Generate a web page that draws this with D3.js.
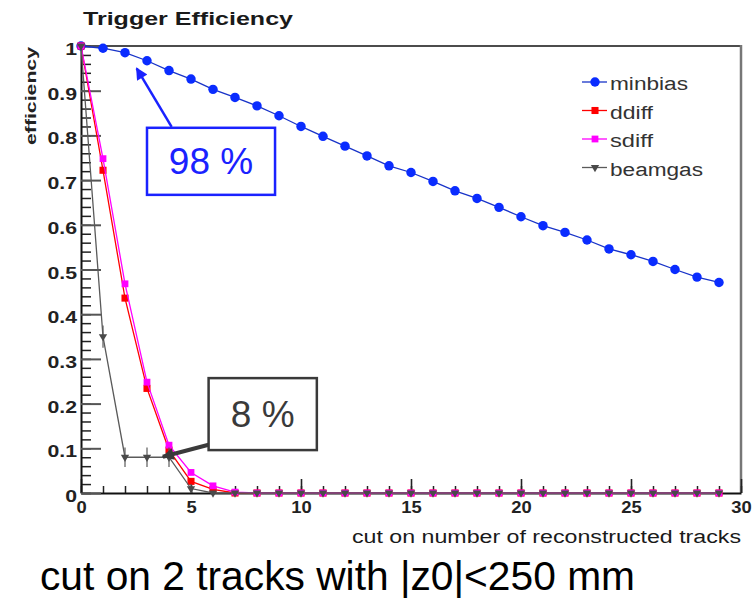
<!DOCTYPE html>
<html>
<head>
<meta charset="utf-8">
<script src="https://cdn.jsdelivr.net/npm/d3@7"></script>
<style>
body { margin: 0; background: #fff; }
svg { display: block; font-family: "Liberation Sans", Arial, sans-serif; }
</style>
</head>
<body>
<svg width="754" height="599"></svg>
<script>
// cut value (number of reconstructed tracks) -> trigger efficiency
let cuts = [0, 1, 2, 3, 4, 5, 6, 7, 8, 9, 10, 11, 12, 13, 14,
            15, 16, 17, 18, 19, 20, 21, 22, 23, 24, 25, 26, 27, 28, 29];

let minbias = [1.0, 0.995, 0.985, 0.967, 0.945, 0.926, 0.903, 0.885, 0.866, 0.844,
               0.82, 0.798, 0.776, 0.754, 0.732, 0.717, 0.697, 0.676, 0.659, 0.639,
               0.618, 0.598, 0.583, 0.566, 0.546, 0.533, 0.518, 0.5, 0.483, 0.471];
let ddiff = [1.0, 0.722, 0.436, 0.234, 0.096, 0.026, 0.008, 0, 0, 0,
             0, 0, 0, 0, 0, 0, 0, 0, 0, 0, 0, 0, 0, 0, 0, 0, 0, 0, 0, 0];
let sdiff = [1.0, 0.748, 0.468, 0.248, 0.107, 0.046, 0.016, 0.002, 0, 0,
             0, 0, 0, 0, 0, 0, 0, 0, 0, 0, 0, 0, 0, 0, 0, 0, 0, 0, 0, 0];
let beamgas = [1.0, 0.35, 0.08, 0.08, 0.08, 0.01, 0, 0, 0, 0,
               0, 0, 0, 0, 0, 0, 0, 0, 0, 0, 0, 0, 0, 0, 0, 0, 0, 0, 0, 0];
let beamgasErr = [0, 0.025, 0.022, 0.022, 0.022, 0.01, 0, 0, 0, 0,
                  0, 0, 0, 0, 0, 0, 0, 0, 0, 0, 0, 0, 0, 0, 0, 0, 0, 0, 0, 0];

let seriesNames = ["minbias", "ddiff", "sdiff", "beamgas"];
let xTicks = [0, 5, 10, 15, 20, 25, 30];
let yTicks = [0, 0.1, 0.2, 0.3, 0.4, 0.5, 0.6, 0.7, 0.8, 0.9, 1];

// callouts, in data units
let callouts = [
  {text: "98 %", box: [3.0, 0.817, 8.82, 0.667], from: [4.12, 0.819], to: [2.53, 0.95], color: "#1a22ff", width: 2.5},
  {text: "8 %", box: [5.8, 0.257, 10.72, 0.096], from: [5.8, 0.108], to: [3.72, 0.081], color: "#3a3a3a", width: 4}
];

let svg = d3.select("svg");

let x = d3.scaleLinear().domain([0, 30]).range([81, 741]),
    y = d3.scaleLinear().domain([0, 1]).range([493, 46]);

let styles = {
  minbias: {color: "#0a2cff", line: "#1833c8", symbol: d3.symbolCircle, size: 70, rotate: 0},
  ddiff:   {color: "#ff0000", line: "#ff0000", symbol: d3.symbolSquare, size: 50, rotate: 0},
  sdiff:   {color: "#ff00ff", line: "#ff00ff", symbol: d3.symbolSquare, size: 46, rotate: 0},
  beamgas: {color: "#4a4a4a", line: "#5a5a5a", symbol: d3.symbolTriangle, size: 30, rotate: 180}
};
let values = {minbias: minbias, ddiff: ddiff, sdiff: sdiff, beamgas: beamgas};

// frame (top and right)
svg.append("line")
    .attr("x1", x(0)).attr("x2", x(30)).attr("y1", y(1)).attr("y2", y(1))
    .attr("stroke", "#111").attr("stroke-width", 1.5);
svg.append("line")
    .attr("x1", x(30)).attr("x2", x(30)).attr("y1", y(1) - 1).attr("y2", y(0))
    .attr("stroke", "#777").attr("stroke-width", 2.5);

// minor ticks
svg.append("g")
    .attr("transform", "translate(0," + y(0) + ")")
    .call(d3.axisBottom(x).tickValues(d3.range(0, 31)).tickSize(-7).tickFormat(""))
    .call(function(g) { g.select(".domain").remove(); })
    .selectAll("line").attr("stroke", "#222").attr("stroke-width", 1.5);

svg.append("g")
    .attr("transform", "translate(" + x(0) + ",0)")
    .call(d3.axisLeft(y).tickValues(d3.range(0, 1.001, 0.02)).tickSize(-10).tickFormat(""))
    .call(function(g) { g.select(".domain").remove(); })
    .selectAll("line").attr("stroke", "#222").attr("stroke-width", 1.5);

// major axes
let gx = svg.append("g")
    .attr("transform", "translate(0," + y(0) + ")")
    .call(d3.axisBottom(x).tickValues(xTicks).tickSizeInner(-14).tickSizeOuter(0));

gx.select(".domain").attr("stroke", "#111").attr("stroke-width", 2);
gx.selectAll(".tick line").attr("stroke", "#222").attr("stroke-width", 1.6);
gx.selectAll(".tick text")
    .attr("y", 20).attr("dy", null)
    .attr("transform", "scale(1.15,1)")
    .attr("fill", "#222")
    .style("font-size", "16px").style("font-weight", "bold")
    .style("font-family", "'Liberation Sans', Arial, sans-serif");

let gy = svg.append("g")
    .attr("transform", "translate(" + x(0) + ",0)")
    .call(d3.axisLeft(y).tickValues(yTicks).tickSizeInner(-20).tickSizeOuter(0).tickFormat(d3.format("~g")));

gy.select(".domain").attr("stroke", "#111").attr("stroke-width", 2);
gy.selectAll(".tick line").attr("stroke", "#555").attr("stroke-width", 2);
gy.selectAll(".tick text")
    .attr("x", -3.2).attr("dy", "0.5em")
    .attr("transform", "scale(1.25,1)")
    .attr("fill", "#222")
    .style("font-size", "17px").style("font-weight", "bold")
    .style("font-family", "'Liberation Sans', Arial, sans-serif");

// titles
svg.append("text")
    .attr("x", 83).attr("y", 25)
    .attr("textLength", 210).attr("lengthAdjust", "spacingAndGlyphs")
    .style("font-size", "19px").style("font-weight", "bold").attr("fill", "#1a1a1a")
    .text("Trigger Efficiency");

svg.append("text")
    .attr("transform", "translate(36,47) rotate(-90)")
    .attr("text-anchor", "end")
    .attr("textLength", 98).attr("lengthAdjust", "spacingAndGlyphs")
    .style("font-size", "15px").style("font-weight", "bold").attr("fill", "#222")
    .text("efficiency");

svg.append("text")
    .attr("x", 352).attr("y", 543)
    .attr("textLength", 389).attr("lengthAdjust", "spacingAndGlyphs")
    .style("font-size", "18px").attr("fill", "#1a1a1a")
    .text("cut on number of reconstructed tracks");

svg.append("text")
    .attr("x", 40).attr("y", 590)
    .attr("textLength", 595).attr("lengthAdjust", "spacingAndGlyphs")
    .style("font-size", "41px").attr("fill", "#000")
    .text("cut on 2 tracks with |z0|<250 mm");

// series
let line = d3.line()
    .x(function(d, i) { return x(cuts[i]); })
    .y(function(d) { return y(d); });

seriesNames.forEach(function(name) {
  let s = styles[name],
      v = values[name];

  if (name === "beamgas") {
    svg.append("g").selectAll("line")
        .data(v)
      .enter().append("line")
        .attr("x1", function(d, i) { return x(cuts[i]); })
        .attr("x2", function(d, i) { return x(cuts[i]); })
        .attr("y1", function(d, i) { return y(d + beamgasErr[i]); })
        .attr("y2", function(d, i) { return y(d - beamgasErr[i]); })
        .attr("stroke", s.line).attr("stroke-width", 1.2);
  }

  svg.append("path")
      .datum(v)
      .attr("d", line)
      .attr("fill", "none")
      .attr("stroke", s.line)
      .attr("stroke-width", 1.3);

  svg.append("g").selectAll("path")
      .data(v)
    .enter().append("path")
      .attr("d", d3.symbol().type(s.symbol).size(s.size))
      .attr("transform", function(d, i) {
        return "translate(" + x(cuts[i]) + "," + y(d) + ") rotate(" + s.rotate + ")";
      })
      .attr("fill", s.color);
});

// legend
let legendWidths = {minbias: 78, ddiff: 43, sdiff: 43, beamgas: 93};
let legend = svg.append("g").selectAll("g")
    .data(seriesNames)
  .enter().append("g")
    .attr("transform", function(d, i) { return "translate(582," + (90 + i * 28.5) + ")"; });

legend.append("line")
    .attr("x1", 0).attr("x2", 25).attr("y1", -8).attr("y2", -8)
    .attr("stroke", function(d) { return styles[d].line; })
    .attr("stroke-width", 1.3);

legend.append("path")
    .attr("d", function(d) { return d3.symbol().type(styles[d].symbol).size(styles[d].size)(); })
    .attr("transform", function(d) { return "translate(13,-8) rotate(" + styles[d].rotate + ")"; })
    .attr("fill", function(d) { return styles[d].color; });

legend.append("text")
    .attr("x", 28)
    .attr("textLength", function(d) { return legendWidths[d]; })
    .attr("lengthAdjust", "spacingAndGlyphs")
    .style("font-size", "18px").attr("fill", "#333")
    .text(function(d) { return d; });

// callouts
let defs = svg.append("defs");
callouts.forEach(function(c, i) {
  defs.append("marker")
      .attr("id", "head" + i)
      .attr("markerUnits", "userSpaceOnUse")
      .attr("viewBox", "0 0 10 10")
      .attr("refX", 9).attr("refY", 5)
      .attr("markerWidth", 16).attr("markerHeight", 12)
      .attr("orient", "auto")
    .append("path")
      .attr("d", "M0,0L10,5L0,10z")
      .attr("fill", c.color);

  let b = c.box;
  svg.append("rect")
      .attr("x", x(b[0])).attr("y", y(b[1]))
      .attr("width", x(b[2]) - x(b[0]))
      .attr("height", y(b[3]) - y(b[1]))
      .attr("fill", "#fff")
      .attr("stroke", c.color).attr("stroke-width", 2.5);

  svg.append("text")
      .attr("x", (x(b[0]) + x(b[2])) / 2)
      .attr("y", (y(b[1]) + y(b[3])) / 2 + 13)
      .attr("text-anchor", "middle")
      .style("font-size", "37px").attr("fill", c.color)
      .text(c.text);

  svg.append("line")
      .attr("x1", x(c.from[0])).attr("y1", y(c.from[1]))
      .attr("x2", x(c.to[0])).attr("y2", y(c.to[1]))
      .attr("stroke", c.color).attr("stroke-width", c.width)
      .attr("marker-end", "url(#head" + i + ")");
});
</script>
</body>
</html>
